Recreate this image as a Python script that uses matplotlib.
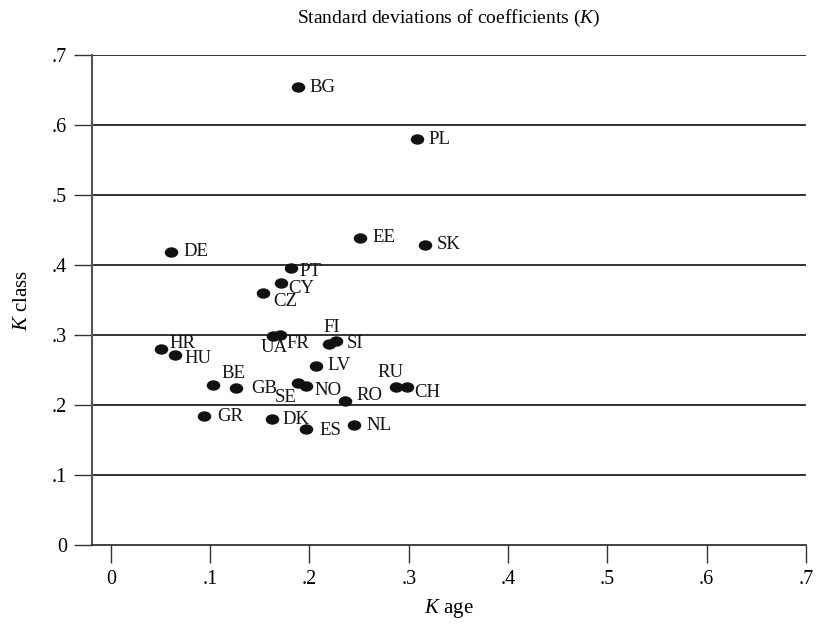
import numpy as np
import matplotlib
matplotlib.use("Agg")
import matplotlib.pyplot as plt
from matplotlib.path import Path

plt.rcParams['font.family'] = ['Liberation Serif', 'DejaVu Serif']
plt.rcParams['mathtext.fontset'] = 'custom'
plt.rcParams['mathtext.rm'] = 'Liberation Serif'
plt.rcParams['mathtext.it'] = 'Liberation Serif:italic'

# Countries and standard deviations of coefficients
countries = ["BG", "PL", "EE", "SK", "DE", "PT", "CY", "CZ", "FI", "SI", "UA", "FR",
             "HR", "HU", "LV", "BE", "GB", "SE", "NO", "RO", "RU", "CH", "GR", "DK",
             "ES", "NL"]
k_age = [0.188, 0.308, 0.251, 0.316, 0.061, 0.181, 0.171, 0.153, 0.220, 0.227, 0.163, 0.170,
         0.050, 0.065, 0.207, 0.103, 0.126, 0.188, 0.196, 0.236, 0.287, 0.298, 0.094, 0.162,
         0.197, 0.245]
k_class = [0.654, 0.580, 0.439, 0.429, 0.419, 0.396, 0.374, 0.360, 0.287, 0.291, 0.299, 0.300,
           0.280, 0.272, 0.256, 0.229, 0.224, 0.231, 0.227, 0.206, 0.226, 0.226, 0.184, 0.180,
           0.166, 0.171]

# label placement: (dx px, dy px down, horizontal alignment)
label_pos = {
    "BG": (12, 0, "left"), "PL": (12, 0, "left"), "EE": (12, 0, "left"),
    "SK": (12, 0, "left"), "DE": (12, 0, "left"), "PT": (9, 4, "left"),
    "CY": (8, 5, "left"), "CZ": (10, 9, "left"), "FI": (2, -17, "center"),
    "SI": (10, 2, "left"), "UA": (1, 12, "center"), "FR": (7, 8, "left"),
    "HR": (9, -6, "left"), "HU": (9, 4, "left"), "LV": (11, 0, "left"),
    "BE": (8, -11, "left"), "GB": (15, 0, "left"), "SE": (-12, 14, "center"),
    "NO": (9, 4, "left"), "RO": (11, -5, "left"), "RU": (-5, -14, "center"),
    "CH": (7, 6, "left"), "GR": (13, 0, "left"), "DK": (11, 0, "left"),
    "ES": (13, 2, "left"), "NL": (12, 0, "left"),
}

ticks = [0, 0.1, 0.2, 0.3, 0.4, 0.5, 0.6, 0.7]
tick_labels = ["0", ".1", ".2", ".3", ".4", ".5", ".6", ".7"]

fig = plt.figure(figsize=(8.2, 6.25), dpi=100)
ax = fig.add_axes([92/820, 1 - 545/625, 714/820, 490/625])

# ellipse marker, a bit wider than tall
circ = Path.unit_circle()
ell = Path(circ.vertices * np.array([1.3, 1.0]), circ.codes)

ax.scatter(k_age, k_class, marker=ell, s=95, color="#111111", zorder=3, linewidths=0)

for name, xv, yv in zip(countries, k_age, k_class):
    dx, dy, ha = label_pos[name]
    ax.annotate(name, (xv, yv), xytext=(dx, -dy), textcoords="offset pixels",
                ha=ha, va="center", fontsize=13.5, color="#111111")

ax.set_xlim(-0.019, 0.698)
ax.set_ylim(0, 0.7)
ax.set_xticks(ticks)
ax.set_xticklabels(tick_labels)
ax.set_yticks(ticks)
ax.set_yticklabels(tick_labels)
ax.tick_params(axis="both", labelsize=14.5, length=13, width=1, color="#333333")
ax.tick_params(axis="x", pad=5)
ax.tick_params(axis="y", pad=5)

for t in ticks[1:]:
    ax.axhline(t, color="#111111", lw=1.2, zorder=1)

for s in ["top", "right"]:
    ax.spines[s].set_visible(False)
ax.spines["left"].set_color("#555555")
ax.spines["left"].set_linewidth(1.5)
ax.spines["bottom"].set_color("#222222")
ax.spines["bottom"].set_linewidth(1.2)

ax.set_xlabel("$K$ age", fontsize=15, labelpad=6)
ax.set_ylabel("$K$ class", fontsize=15, labelpad=14)
fig.text(449/820, 1 - 18/625, "Standard deviations of coefficients ($K$)",
         ha="center", va="center", fontsize=14)

fig.savefig("out.png", dpi=100)
